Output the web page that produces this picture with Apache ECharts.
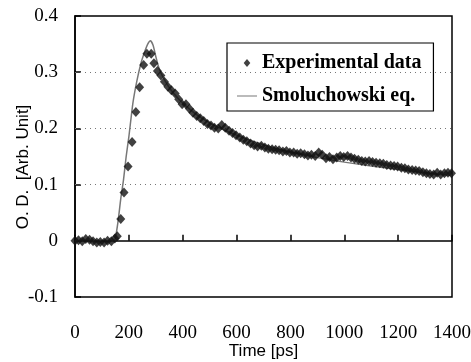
<!DOCTYPE html>
<html>
<head>
<meta charset="utf-8">
<script src="https://cdn.jsdelivr.net/npm/echarts@6/dist/echarts.min.js"></script>
<style>
html,body{margin:0;padding:0;background:#fff;}
#chart{width:471px;height:362px;}
</style>
</head>
<body>
<div id="chart"></div>
<script>
var seriesNames = ['Experimental data', 'Smoluchowski eq.'];
var xTitle = 'Time [ps]';
var yTitle = 'O. D.  [Arb. Unit]';
var gridValues = [0.1, 0.2, 0.3];

var expTime = [0,13,27,40,54,67,81,94,108,121,135,148,157,170,182,197,212,226,240,255,267,283,293,306,319,332,345,358,372,385,398,412,425,438,452,465,478,492,505,518,532,545,558,572,585,598,612,625,638,652,665,678,692,705,718,732,745,758,772,785,798,812,825,838,852,865,878,892,905,918,932,945,958,972,985,998,1012,1025,1038,1052,1065,1078,1092,1105,1118,1132,1145,1158,1172,1185,1198,1212,1225,1238,1252,1265,1278,1292,1305,1318,1332,1345,1358,1372,1385,1398];
var expOD = [0.000,0.001,-0.001,0.003,0.002,-0.001,-0.003,-0.002,-0.003,0.000,-0.001,0.004,0.008,0.039,0.086,0.132,0.176,0.229,0.273,0.313,0.333,0.333,0.316,0.302,0.294,0.283,0.274,0.268,0.262,0.252,0.243,0.243,0.235,0.228,0.222,0.218,0.213,0.208,0.205,0.201,0.200,0.206,0.201,0.196,0.192,0.188,0.184,0.180,0.177,0.173,0.170,0.168,0.169,0.166,0.164,0.163,0.162,0.161,0.159,0.160,0.157,0.157,0.155,0.156,0.154,0.152,0.153,0.151,0.157,0.153,0.147,0.149,0.145,0.148,0.151,0.149,0.151,0.148,0.146,0.144,0.142,0.141,0.142,0.140,0.139,0.138,0.137,0.135,0.134,0.133,0.132,0.130,0.129,0.127,0.126,0.125,0.124,0.122,0.120,0.119,0.118,0.121,0.118,0.120,0.121,0.120];

var fitTime = [0,145,150,160,170,180,190,200,215,230,245,260,270,280,290,300,310,320,340,360,380,400,450,500,550,600,650,700,750,800,850,900,950,1000,1100,1200,1300,1400];
var fitOD = [0,0,0.005,0.035,0.075,0.108,0.150,0.185,0.245,0.285,0.316,0.338,0.350,0.356,0.348,0.328,0.310,0.298,0.280,0.266,0.255,0.245,0.225,0.210,0.198,0.188,0.179,0.171,0.164,0.158,0.153,0.148,0.144,0.140,0.133,0.127,0.121,0.116];

function pairs(xs, ys) {
  var out = [];
  for (var i = 0; i < xs.length; i++) out.push([xs[i], ys[i]]);
  return out;
}

var chart = echarts.init(document.getElementById('chart'), null, {renderer: 'canvas'});
var tickFont = {fontFamily: '"Liberation Serif", "Times New Roman", serif', fontSize: 19, color: '#000'};
var titleFont = {fontFamily: '"Liberation Sans", Arial, sans-serif', fontSize: 17, color: '#000'};

chart.setOption({
  animation: false,
  backgroundColor: '#fff',
  grid: {left: 75, top: 16, right: 19, bottom: 65, outerBoundsMode: 'none', containLabel: false, show: true, borderColor: '#000', borderWidth: 1.5, backgroundColor: 'transparent'},
  legend: {
    data: [
      {name: seriesNames[0], icon: 'path://M5,0 L10,6 L5,12 L0,6 Z', itemStyle: {color: '#111'}},
      {name: seriesNames[1], icon: 'path://M0,0 L20,0 L20,1 L0,1 Z', itemStyle: {color: '#777'}}
    ],
    orient: 'vertical',
    left: 227, top: 43,
    padding: [10, 12, 5, 10],
    itemGap: 13,
    itemWidth: 20, itemHeight: 8,
    symbolKeepAspect: true,
    backgroundColor: '#fff',
    borderColor: '#000', borderWidth: 1.2,
    selectedMode: false,
    textStyle: {fontFamily: '"Liberation Serif", "Times New Roman", serif', fontWeight: 'bold', fontSize: 20, color: '#000'}
  },
  xAxis: {
    type: 'value', min: 0, max: 1400, interval: 200,
    name: xTitle, nameLocation: 'middle', nameGap: 46, nameMoveOverlap: false,
    nameTextStyle: titleFont,
    axisLine: {show: true, lineStyle: {color: '#000', width: 1.5}},
    axisTick: {show: true, inside: true, length: 6, lineStyle: {color: '#000', width: 1.5}},
    axisLabel: Object.assign({margin: 27, formatter: function (v) { return String(v); }}, tickFont),
    splitLine: {show: false}
  },
  yAxis: {
    type: 'value', min: -0.1, max: 0.4, interval: 0.1,
    name: yTitle, nameLocation: 'middle', nameGap: 43, nameMoveOverlap: false,
    nameTextStyle: Object.assign({padding: [0, 21, 0, 0]}, titleFont),
    axisLine: {show: true, lineStyle: {color: '#000', width: 1.5}},
    axisTick: {show: true, inside: true, length: 6, lineStyle: {color: '#000', width: 1.5}},
    axisLabel: Object.assign({margin: 17, formatter: function (v) { return String(+v.toFixed(1)); }}, tickFont),
    splitLine: {show: false}
  },
  series: [
    {
      name: seriesNames[0],
      type: 'scatter',
      symbol: 'diamond',
      symbolSize: [9, 10],
      itemStyle: {color: '#111'},
      z: 5,
      data: pairs(expTime, expOD)
    },
    {
      name: seriesNames[1],
      type: 'line',
      showSymbol: false,
      symbol: 'none',
      smooth: 0.2,
      lineStyle: {color: '#777', width: 1.5},
      itemStyle: {color: '#777'},
      z: 3,
      data: pairs(fitTime, fitOD),
      markLine: {
        silent: true,
        symbol: ['none', 'none'],
        label: {show: false},
        lineStyle: {color: '#777', type: [1, 4], width: 1},
        data: gridValues.map(function (v) { return {yAxis: v}; })
      }
    }
  ]
});
</script>
</body>
</html>
